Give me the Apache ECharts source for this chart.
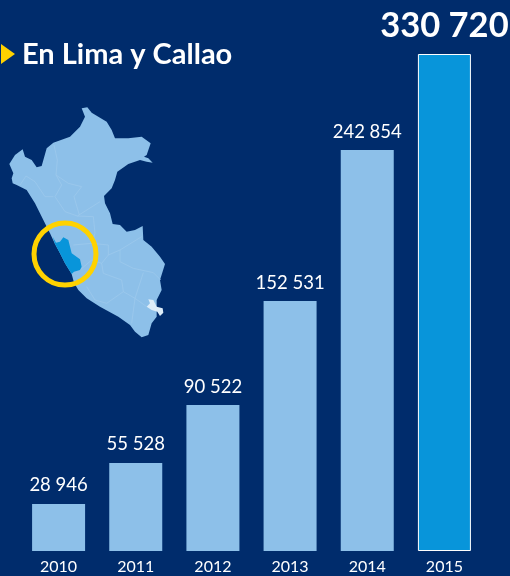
<!DOCTYPE html>
<html>
<head>
<meta charset="utf-8">
<title>En Lima y Callao</title>
<script src="https://cdn.jsdelivr.net/npm/echarts@6/dist/echarts.min.js"></script>
<style>
html, body { margin: 0; padding: 0; background: #002c6c; }
#main { width: 510px; height: 576px; }
</style>
</head>
<body>
<div id="main"></div>
<script>
var years = ['2010', '2011', '2012', '2013', '2014', '2015']
// the numbers printed above the bars
var printedValues = [28946, 55528, 90522, 152531, 242854, 330720]
// the bars in the picture are not proportional to the printed numbers,
// so their lengths are read off separately, in the same units
var barLengths = [31300, 58600, 97100, 166300, 266800, 330720]

// decorative map (zoomed crop coordinates)
var peruOutline = [[245,55],[262,52],[275,68],[295,80],[320,95],[335,120],[345,145],[385,145],[425,140],[452,160],[440,195],[432,200],[445,205],[458,218],[440,215],[420,210],[385,222],[352,245],[345,270],[335,295],[312,318],[315,340],[330,370],[338,402],[360,405],[380,425],[405,420],[428,408],[430,450],[455,470],[480,500],[495,522],[480,570],[485,600],[470,630],[470,680],[455,700],[445,735],[425,742],[405,725],[390,705],[355,680],[300,650],[260,625],[235,600],[222,578],[215,552],[195,520],[180,490],[165,462],[150,430],[130,390],[105,340],[80,300],[50,285],[38,280],[35,265],[40,250],[28,222],[45,195],[68,178],[75,200],[95,210],[110,232],[125,228],[140,175],[160,158],[210,140],[240,110],[255,80]]
var limaRegion = [[158,440],[168,458],[180,455],[190,442],[205,450],[215,490],[240,508],[245,530],[240,540],[222,545],[215,552],[195,520],[180,490],[165,462]]
var titicaca = [[445,628],[460,630],[470,650],[488,655],[490,668],[480,678],[472,665],[455,660],[440,650],[450,640]]
var borderLines = [
    [[162,165],[172,210],[168,255],[185,285],[165,320],[195,365],[232,378],[300,335]],
    [[60,285],[78,258],[105,275],[135,320],[160,320]],
    [[168,255],[205,280],[245,290],[222,320],[238,375]],
    [[232,378],[280,380],[285,430],[275,460],[220,465]],
    [[275,460],[325,465],[325,495],[305,520],[275,510],[240,540]],
    [[325,495],[360,480],[425,440]],
    [[360,480],[360,515],[400,535],[460,548],[482,570]],
    [[305,520],[310,550],[365,570],[370,605],[320,640]],
    [[260,590],[285,630],[320,640]],
    [[430,548],[405,625],[395,700]],
    [[370,605],[405,625],[440,650]]
]

function toPx(p) {
    return [p[0] / 3, 90 + p[1] / 3]
}
function formatValue(v) {
    return String(v).replace(/\B(?=(\d{3})+$)/g, ' ')
}

var FONT = 'Lato, "Open Sans", sans-serif'

var mapGraphics = [
    { type: 'polygon', shape: { points: peruOutline.map(toPx) }, style: { fill: '#8dc0e9' } }
]
borderLines.forEach(function (line) {
    mapGraphics.push({
        type: 'polyline',
        shape: { points: line.map(toPx) },
        style: { stroke: '#9fcaec', lineWidth: 0.7, fill: null }
    })
})
mapGraphics.push(
    { type: 'polygon', shape: { points: limaRegion.map(toPx) }, style: { fill: '#0895da' } },
    { type: 'polygon', shape: { points: titicaca.map(toPx) }, style: { fill: '#dcecf8' } },
    { type: 'circle', shape: { cx: 65, cy: 254, r: 31 }, style: { fill: null, stroke: '#ffd200', lineWidth: 5 } },
    // heading marker
    { type: 'polygon', shape: { points: [[1, 44], [15, 54], [1, 64]] }, style: { fill: '#ffd200' } }
)

var chart = echarts.init(document.getElementById('main'))
var option = {
    backgroundColor: '#002c6c',
    animation: false,
    title: {
        text: 'En Lima y Callao',
        left: 22,
        top: 40,
        padding: 0,
        textStyle: { color: '#ffffff', fontFamily: FONT, fontSize: 29, fontWeight: 'bold' }
    },
    grid: { left: 20, right: 27, top: 54, bottom: 25 },
    xAxis: {
        type: 'category',
        data: years,
        axisLine: { show: false },
        axisTick: { show: false },
        axisLabel: { color: '#ffffff', fontFamily: FONT, fontSize: 16, margin: 8 }
    },
    yAxis: {
        type: 'value',
        min: 0,
        max: 330720,
        show: false
    },
    series: [
        {
            type: 'bar',
            barWidth: 53,
            data: barLengths.map(function (v, i) {
                var last = i === barLengths.length - 1
                return {
                    value: v,
                    printed: printedValues[i],
                    itemStyle: last
                        ? { color: '#0895da', borderColor: '#ffffff', borderWidth: 1 }
                        : { color: '#8dc0e9' },
                    label: last
                        ? { fontSize: 34.5, fontWeight: 'bold', distance: 11 }
                        : { fontSize: 18.5, distance: 9 }
                }
            }),
            label: {
                show: true,
                position: 'top',
                color: '#ffffff',
                fontFamily: FONT,
                formatter: function (p) {
                    return formatValue(p.data.printed)
                }
            }
        }
    ],
    graphic: mapGraphics
}
chart.setOption(option)
</script>
</body>
</html>
